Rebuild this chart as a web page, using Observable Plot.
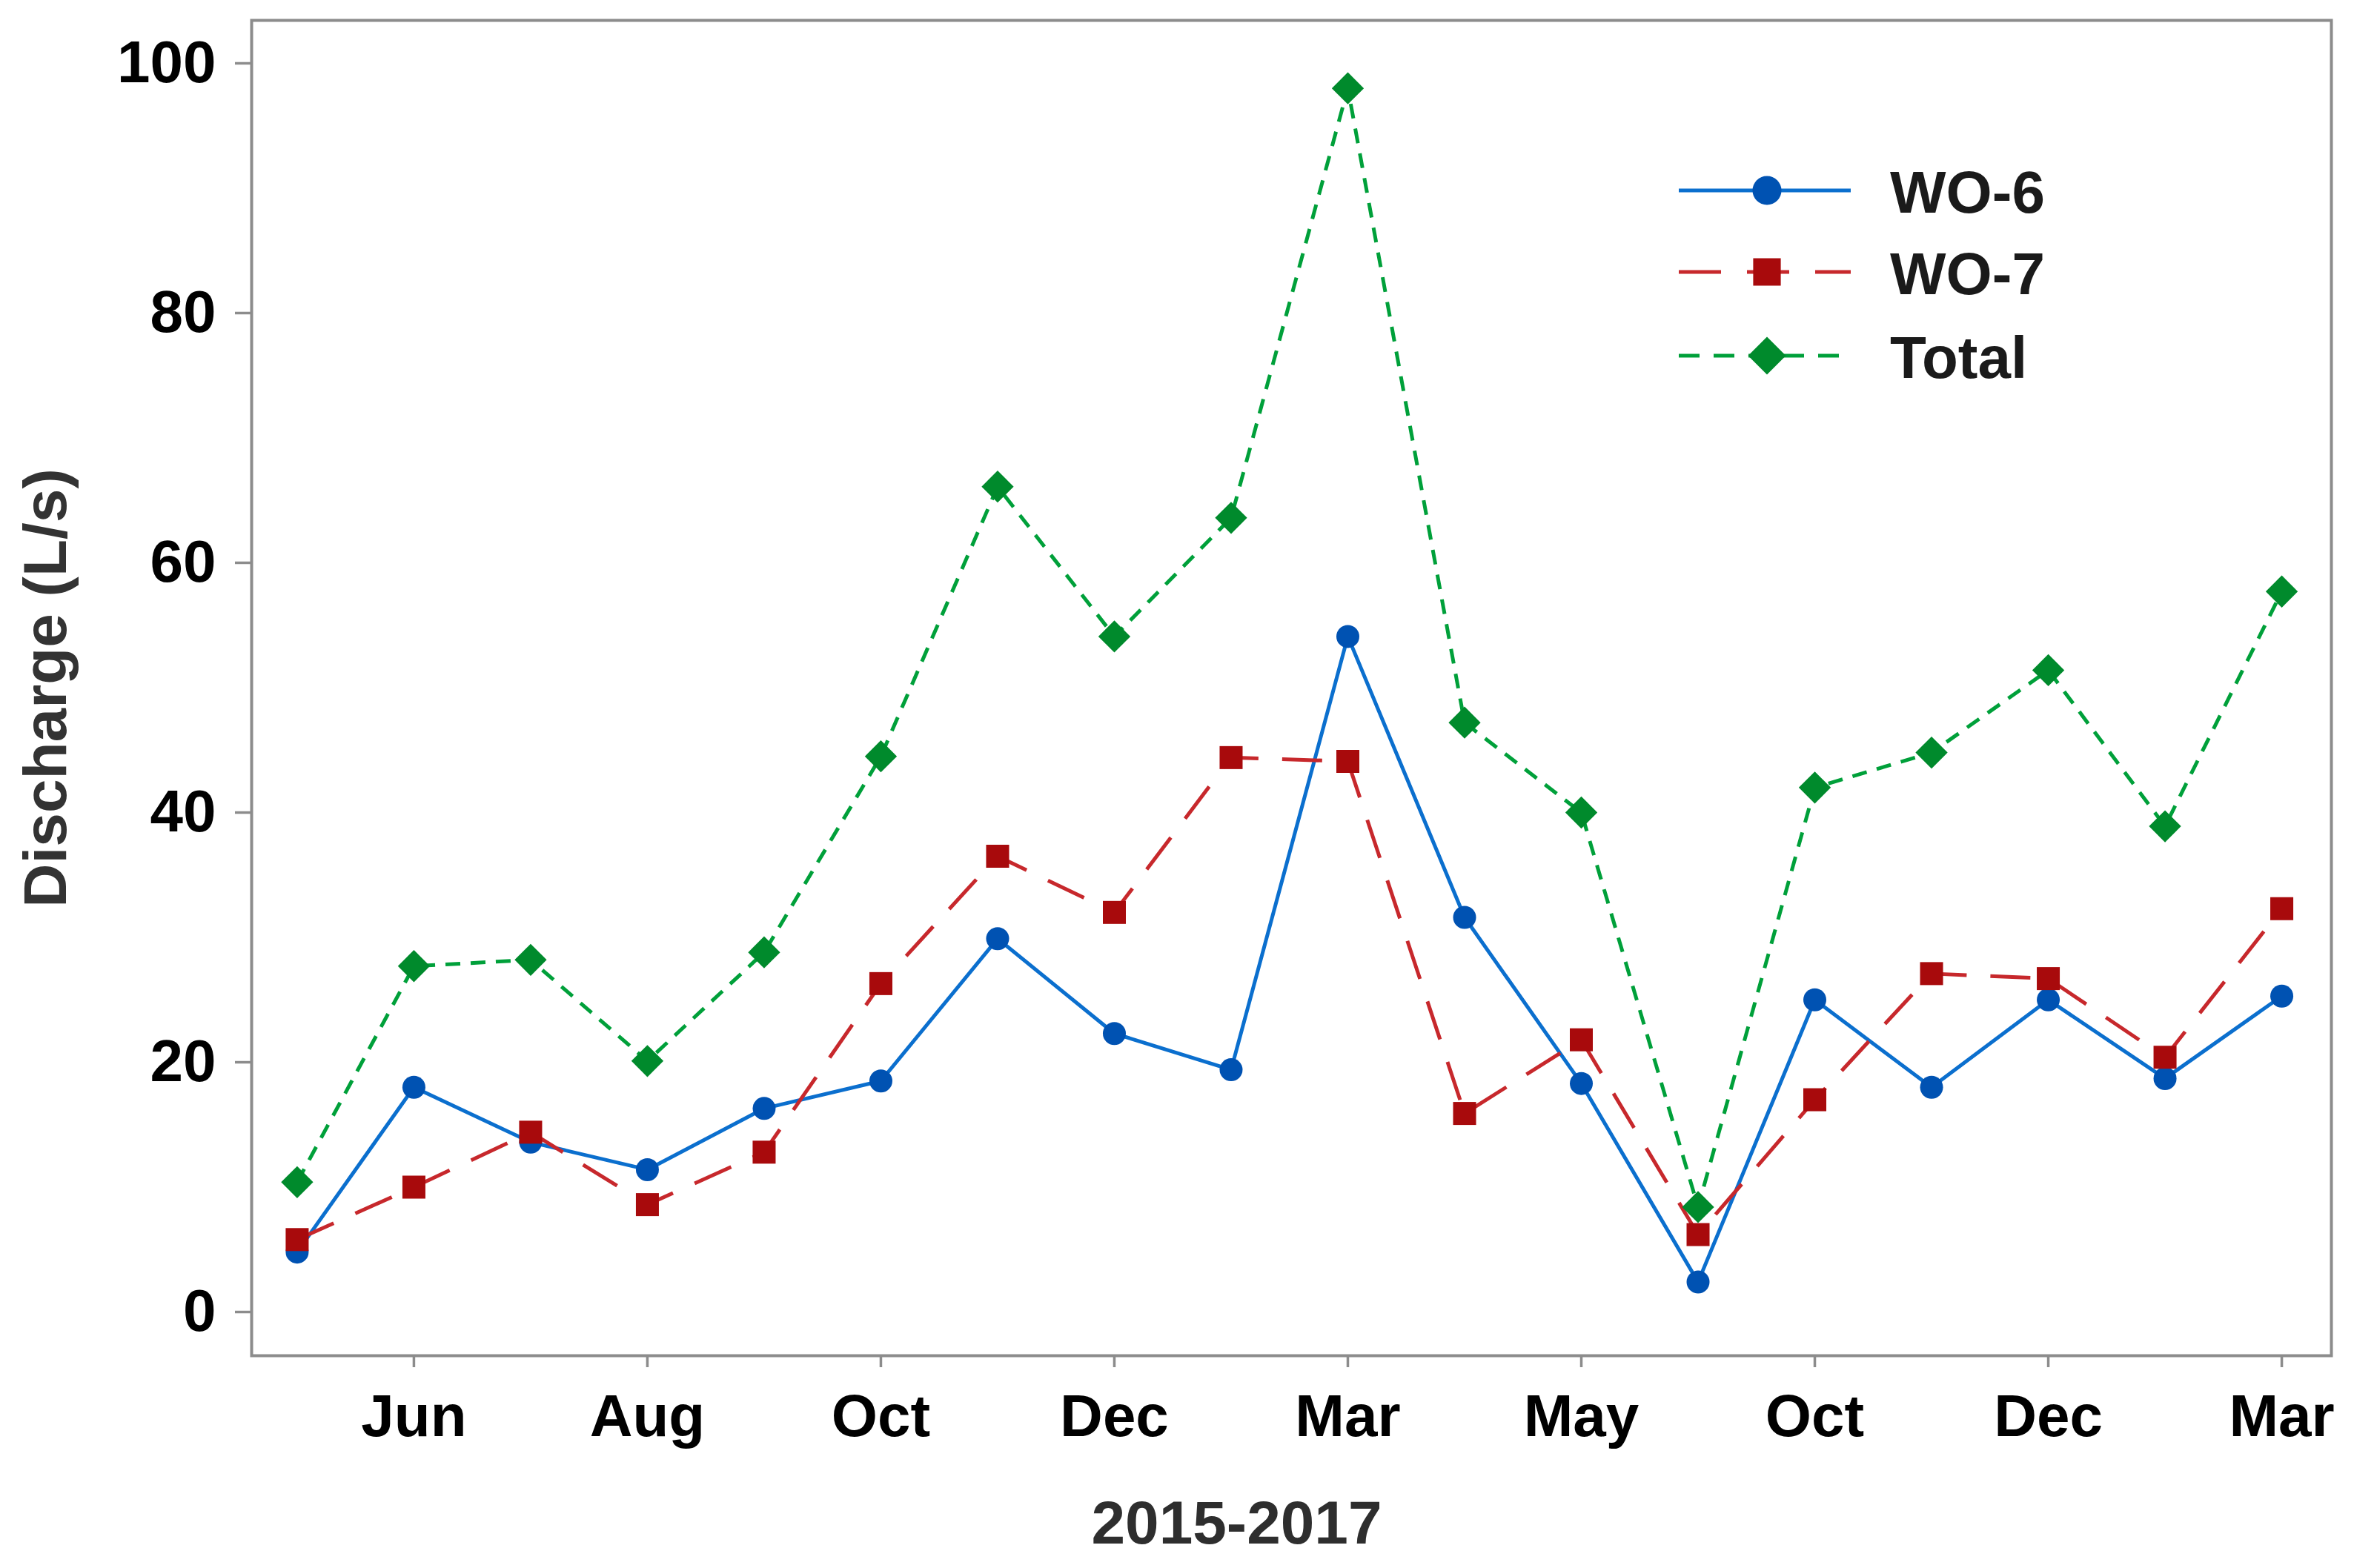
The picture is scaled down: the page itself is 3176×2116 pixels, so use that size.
<!DOCTYPE html>
<html>
<head>
<meta charset="utf-8">
<script src="https://cdn.jsdelivr.net/npm/d3@7"></script>
<script src="https://cdn.jsdelivr.net/npm/@observablehq/plot@0.6"></script>
<style>
  html, body { margin: 0; padding: 0; background: #ffffff; }
  #chart { width: 3176px; height: 2116px; }
</style>
</head>
<body>
<div id="chart"></div>
<script>
// ---- data ----
const sampleIndex = [0, 1, 2, 3, 4, 5, 6, 7, 8, 9, 10, 11, 12, 13, 14, 15, 16, 17];
const wo6   = [4.8, 18.0, 13.6, 11.4, 16.3, 18.5, 29.9, 22.3, 19.4, 54.1, 31.6, 18.3, 2.4, 25.0, 18.0, 25.0, 18.7, 25.3];
const wo7   = [5.8, 10.0, 14.4, 8.6, 12.8, 26.3, 36.5, 32.0, 44.4, 44.1, 15.9, 21.8, 6.2, 17.0, 27.1, 26.7, 20.4, 32.3];
const total = [10.4, 27.7, 28.2, 20.1, 28.8, 44.5, 66.1, 54.1, 63.6, 98.0, 47.2, 40.0, 8.4, 42.0, 44.8, 51.4, 38.9, 57.7];
const tickIndex  = [1, 3, 5, 7, 9, 11, 13, 15, 17];
const tickLabels = ["Jun", "Aug", "Oct", "Dec", "Mar", "May", "Oct", "Dec", "Mar"];
const yTicks = [0, 20, 40, 60, 80, 100];
const seriesNames = ["WO-6", "WO-7", "Total"];
const xTitle = "2015-2017";
const yTitle = "Discharge (L/s)";

// ---- styles ----
const FONT = "'Liberation Sans', Arial, Helvetica, sans-serif";
const styles = {
  "WO-6":  { line: "#0b6fce", marker: "#0052b2", dash: null,    symbol: "circle",   r: 15.5, lr: 19.5 },
  "WO-7":  { line: "#c7282c", marker: "#a80a0c", dash: "54,32", symbol: "square",   r: 17.5, lr: 21 },
  "Total": { line: "#00a03a", marker: "#008a2c", dash: "20,14", symbol: "diamond2", r: 19.5, lr: 23 }
};
const seriesValues = { "WO-6": wo6, "WO-7": wo7, "Total": total };
const rows = (vals) => vals.map((v, k) => ({ i: sampleIndex[k], v }));

const seriesMarks = seriesNames.flatMap((name) => {
  const s = styles[name];
  const data = rows(seriesValues[name]);
  return [
    Plot.line(data, {
      x: "i", y: "v", stroke: s.line, strokeWidth: 5,
      strokeDasharray: s.dash || undefined,
      strokeLinecap: s.dash ? "butt" : "round",
      strokeLinejoin: "round"
    }),
    Plot.dot(data, { x: "i", y: "v", symbol: s.symbol, r: s.r, fill: s.marker, stroke: "none" })
  ];
});

const svg = Plot.plot({
  width: 3176,
  height: 2116,
  marginLeft: 339,
  marginRight: 31,
  marginTop: 27,
  marginBottom: 287,
  style: { fontFamily: FONT, background: "#ffffff", overflow: "visible" },
  x: { type: "linear", domain: [-0.39, 17.425] },
  y: { type: "linear", domain: [-3.5, 103.44] },
  marks: [
    Plot.axisY(yTicks, {
      tickSize: 22, tickPadding: 26, stroke: "#8c8c8c", strokeWidth: 3.5,
      fill: "#000000", fontSize: 80, fontWeight: "bold", fontFamily: FONT,
      tickFormat: (d) => String(d), label: null
    }),
    Plot.axisX(tickIndex, {
      tickSize: 16, tickPadding: 36, stroke: "#8c8c8c", strokeWidth: 3.5,
      fill: "#000000", fontSize: 80, fontWeight: "bold", fontFamily: FONT,
      tickFormat: (d) => tickLabels[tickIndex.indexOf(d)], label: null
    }),
    Plot.frame({ stroke: "#8c8c8c", strokeWidth: 4 }),
    ...seriesMarks,
    Plot.text([yTitle], {
      text: (d) => d, frameAnchor: "left", dx: -277, rotate: -90,
      textAnchor: "middle", lineAnchor: "middle",
      fontSize: 82, fontWeight: "bold", fill: "#333333", fontFamily: FONT
    }),
    Plot.text([xTitle], {
      text: (d) => d, frameAnchor: "bottom", dx: -74, dy: 227,
      textAnchor: "middle", lineAnchor: "middle",
      fontSize: 82, fontWeight: "bold", fill: "#2e2e2e", fontFamily: FONT
    })
  ]
});

// ---- legend (inside the frame, top right) ----
const legend = d3.select(svg).append("g").attr("font-family", FONT).attr("text-anchor", "start");
const legendY = [257, 367, 480];
const lx0 = 2265, lx1 = 2497, lmx = 2384, ltx = 2550;
const symType = { circle: d3.symbolCircle, square: d3.symbolSquare, diamond2: d3.symbolDiamond2 };
seriesNames.forEach((name, k) => {
  const s = styles[name];
  const y = legendY[k];
  const line = legend.append("line")
    .attr("x1", lx0).attr("x2", lx1).attr("y1", y).attr("y2", y)
    .attr("stroke", s.line).attr("stroke-width", 5);
  if (s.dash) line.attr("stroke-dasharray", name === "WO-7" ? "57,35" : "28,19");
  legend.append("path")
    .attr("transform", `translate(${lmx},${y})`)
    .attr("d", d3.symbol(symType[s.symbol], Math.PI * s.lr * s.lr)())
    .attr("fill", s.marker);
  legend.append("text")
    .attr("x", ltx).attr("y", y).attr("dy", "0.38em")
    .attr("text-anchor", "start")
    .attr("font-size", 80).attr("font-weight", "bold").attr("fill", "#1a1a1a")
    .text(name);
});

document.getElementById("chart").appendChild(svg);
</script>
</body>
</html>
